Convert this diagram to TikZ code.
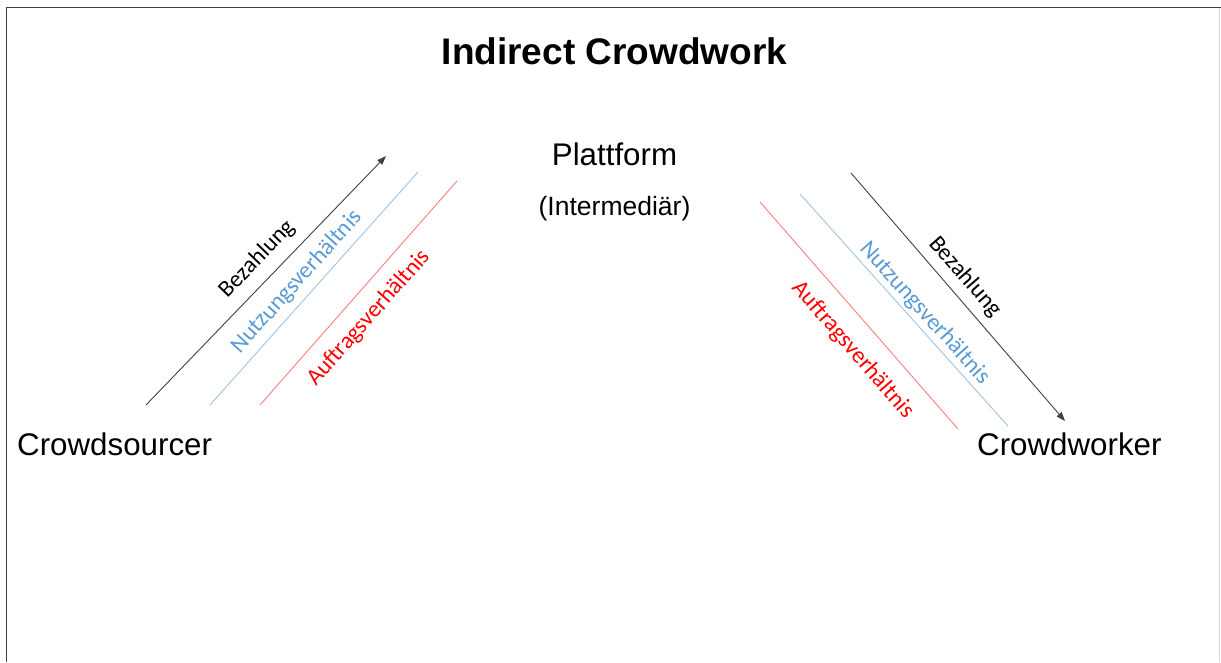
\documentclass[tikz,border=0pt]{standalone}
\usepackage{fontspec}
\setmainfont{Liberation Sans}
\newfontfamily\calib{Carlito}
\usetikzlibrary{arrows.meta}
\definecolor{bluetxt}{HTML}{5B9BD5}
\definecolor{blueline}{HTML}{9DC3E6}
\definecolor{redtxt}{HTML}{FF0000}
\definecolor{redline}{HTML}{FF7C7C}
\definecolor{frame}{HTML}{404040}
\tikzset{
  big/.style={inner sep=0pt, font=\fontsize{31.3}{36}\selectfont},
  lab/.style={inner sep=0pt, anchor=center, font=\calib\fontsize{23.5}{27}\selectfont},
  pay/.style={draw=black!75, line width=0.9pt, -{Triangle[length=9pt,width=6.5pt]}},
  use/.style={draw=blueline, line width=0.9pt},
  ord/.style={draw=redline, line width=0.9pt}
}
\begin{document}
\begin{tikzpicture}[x=1pt,y=-1pt]
\useasboundingbox (0,0) rectangle (1221,662);
% frame
\draw[frame, line width=1.8pt] (6.5,662) -- (6.5,7.5) -- (1221,7.5);
\draw[black!15, line width=1pt] (1219.5,7.5) -- (1219.5,662);
% title and texts
\node[inner sep=0pt, anchor=base, font=\bfseries\fontsize{37}{42}\selectfont] (title) at (614.5,64) {Indirect Crowdwork};
\node[big, anchor=base] (plat) at (614.5,165) {Plattform};
\node[inner sep=0pt, anchor=base, font=\fontsize{26.5}{30}\selectfont] (inter) at (614.5,215) {(Intermediär)};
\node[big, anchor=base west] (cs) at (17,455) {Crowdsourcer};
\node[big, anchor=base west] (cw) at (977,455) {Crowdworker};
% endpoints
\coordinate (lpA) at (146,405);
\coordinate (lpB) at (386,156);
\coordinate (luA) at (210,405);
\coordinate (luB) at (418,172);
\coordinate (loA) at (260,405);
\coordinate (loB) at (457,181);
\coordinate (rpA) at (851,173);
\coordinate (rpB) at (1065,421);
\coordinate (ruA) at (800,194);
\coordinate (ruB) at (1008,426);
\coordinate (roA) at (760,202);
\coordinate (roB) at (958,429);
% connectors
\draw[pay] (lpA) -- (lpB);
\draw[use] (luA) -- (luB);
\draw[ord] (loA) -- (loB);
\draw[pay] (rpA) -- (rpB);
\draw[use] (ruA) -- (ruB);
\draw[ord] (roA) -- (roB);
% labels
\node[lab, rotate=46] (lp) at (257,259) {Bezahlung};
\node[lab, rotate=48, text=bluetxt] (lu) at (297,282) {Nutzungsverhältnis};
\node[lab, rotate=48.5, text=redtxt] (lo) at (369,318) {Auftragsverhältnis};
\node[lab, rotate=-49] (rp) at (965,277) {Bezahlung};
\node[lab, rotate=-48, text=bluetxt] (ru) at (925,313) {Nutzungsverhältnis};
\node[lab, rotate=-49, text=redtxt] (ro) at (853,350) {Auftragsverhältnis};
\end{tikzpicture}
\end{document}
